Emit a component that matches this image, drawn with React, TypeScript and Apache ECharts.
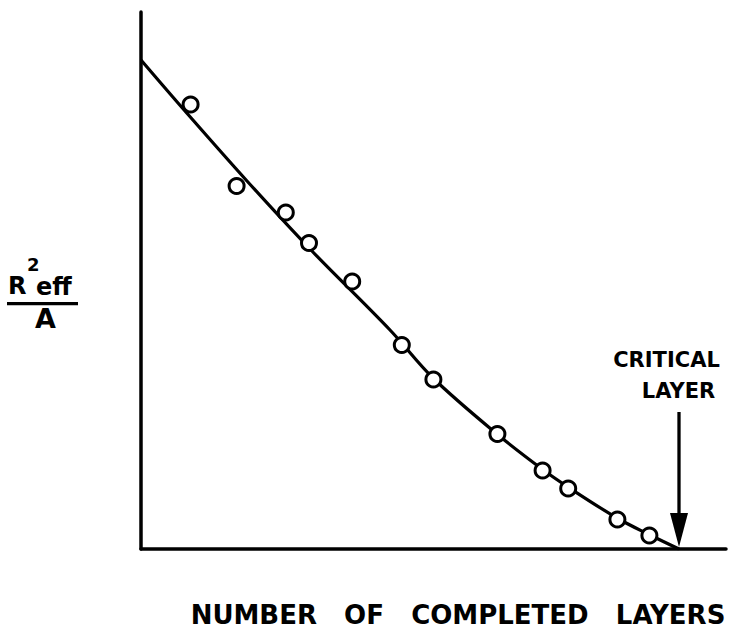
import React, { useEffect, useRef } from "react";
import * as echarts from "echarts";

// Measured points: [layers completed, R²eff / A] (arbitrary units)
const measuredX = [1.24, 2.39, 3.62, 4.2, 5.28, 6.52, 7.31, 8.91, 10.04, 10.68, 11.91, 12.71];
const measuredY = [8.89, 7.26, 6.73, 6.12, 5.35, 4.08, 3.39, 2.3, 1.57, 1.21, 0.59, 0.27];

// Fitted curve through the points
const curveX = [0, 1.1, 2.65, 4.225, 6.225, 7.3, 8.9, 10.025, 10.675, 11.9, 12.725, 13.45];
const curveY = [9.78, 8.76, 7.36, 6.0, 4.38, 3.42, 2.3, 1.6, 1.24, 0.62, 0.28, 0.0];

const criticalLayer = 13.45;
const arrowTopY = 2.74;

const xMax = 14.625;
const yMax = 10.74;

const xTitle = "NUMBER   OF   COMPLETED   LAYERS";
const criticalLines = ["CRITICAL", "LAYER"];

const FONT = "'DejaVu Sans', 'Liberation Sans', sans-serif";

export default function App() {
  const ref = useRef<HTMLDivElement>(null);

  useEffect(() => {
    document.body.style.margin = "0";
    if (!ref.current) return;
    const chart = echarts.init(ref.current, undefined, { renderer: "svg" });

    chart.setOption({
      animation: false,
      backgroundColor: "#ffffff",
      grid: { left: 141, right: 16, top: 12, bottom: 81, containLabel: false },
      xAxis: {
        type: "value",
        min: 0,
        max: xMax,
        axisLine: { show: true, onZero: false, lineStyle: { color: "#000", width: 3.5 } },
        axisTick: { show: false },
        axisLabel: { show: false },
        splitLine: { show: false },
      },
      yAxis: {
        type: "value",
        min: 0,
        max: yMax,
        axisLine: { show: true, onZero: false, lineStyle: { color: "#000", width: 3.5 } },
        axisTick: { show: false },
        axisLabel: { show: false },
        splitLine: { show: false },
      },
      series: [
        {
          name: "fit",
          type: "line",
          data: curveX.map((x, i) => [x, curveY[i]]),
          smooth: 0.35,
          showSymbol: false,
          symbol: "none",
          lineStyle: { color: "#000", width: 3.2 },
          z: 2,
        },
        {
          name: "measured",
          type: "scatter",
          data: measuredX.map((x, i) => [x, measuredY[i]]),
          symbol: "circle",
          symbolSize: 15,
          itemStyle: { color: "#ffffff", borderColor: "#000", borderWidth: 3, opacity: 1 },
          z: 3,
        },
      ],
    });

    const tip = chart.convertToPixel({ gridIndex: 0 }, [criticalLayer, 0]) as number[];
    const top = chart.convertToPixel({ gridIndex: 0 }, [criticalLayer, arrowTopY]) as number[];
    const ax = tip[0];
    const tipY = tip[1] - 2;
    const headLen = 34;
    const headHalf = 9;

    const txt = (
      text: string,
      x: number,
      y: number,
      size: number,
      align: string,
      weight = "bold"
    ) => ({
      type: "text",
      z: 10,
      style: {
        text,
        x,
        y,
        fill: "#000",
        font: `${weight} ${size}px ${FONT}`,
        fontSize: size,
        fontWeight: weight,
        fontFamily: FONT,
        align,
        textAlign: align,
        verticalAlign: "middle",
        textVerticalAlign: "middle",
      },
    });

    chart.setOption({
      graphic: {
        elements: [
          // arrow to the critical layer
          {
            type: "line",
            z: 10,
            shape: { x1: ax, y1: top[1], x2: ax, y2: tipY - headLen + 4 },
            style: { stroke: "#000", lineWidth: 3.3 },
          },
          {
            type: "polygon",
            z: 10,
            shape: {
              points: [
                [ax - headHalf, tipY - headLen],
                [ax + headHalf, tipY - headLen],
                [ax, tipY],
              ],
            },
            style: { fill: "#000" },
          },
          txt(criticalLines[0], 666.5, 360, 21, "center"),
          txt(criticalLines[1], 678.5, 390.5, 21, "center"),
          txt(xTitle, 458, 615, 26, "center"),
          // y-axis label: R²eff / A
          txt("R", 8, 286, 24, "left"),
          txt("2", 27, 264, 18, "left"),
          txt("eff", 36, 287, 24, "left"),
          {
            type: "rect",
            z: 10,
            shape: { x: 7, y: 302, width: 71, height: 3.2 },
            style: { fill: "#000" },
          },
          txt("A", 35, 318, 27, "left"),
        ],
      },
    });

    return () => chart.dispose();
  }, []);

  return <div ref={ref} style={{ width: 742, height: 630 }} />;
}
